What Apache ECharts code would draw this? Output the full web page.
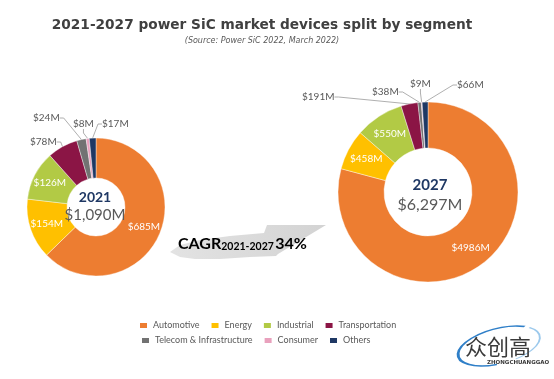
<!DOCTYPE html>
<html>
<head>
<meta charset="utf-8">
<script src="https://cdn.jsdelivr.net/npm/echarts@6/dist/echarts.min.js"></script>
<style>
html,body{margin:0;padding:0;background:#fff;}
#main{width:554px;height:379px;}
</style>
</head>
<body>
<div id="main"></div>
<script>
// ---- data ----
var categories = ['Automotive', 'Energy', 'Industrial', 'Transportation', 'Telecom & Infrastructure', 'Consumer', 'Others'];
var values2021 = [685, 154, 126, 78, 24, 8, 17];
var values2027 = [4986, 458, 550, 191, 38, 9, 66];
var totalLabel2021 = '$1,090M';
var totalLabel2027 = '$6,297M';
var years = ['2021', '2027'];
var cagrText = '34%';
var cagrPeriod = '2021-2027';

// ---- styles ----
var colors = ['#ED7D31', '#FFC000', '#B2CA45', '#8B1545', '#727272', '#E9A1BD', '#1F3864'];
var labelPos2021 = ['inside', 'inside', 'inside', 'outside', 'outside', 'outside', 'outside'];
var labelPos2027 = ['inside', 'inside', 'inside', 'outside', 'outside', 'outside', 'outside'];
// label anchor placements (left edge, vertical middle) for outside labels
var outsideLabelXY = [
  {3: [30, 142], 4: [33, 118], 5: [73, 124], 6: [102, 124]},
  {3: [302, 97], 4: [372, 92], 5: [410, 84], 6: [457, 85]}
];
var FONT = 'Lato, "Open Sans", sans-serif';

function buildData(values, pos) {
  return values.map(function (v, i) {
    var inside = pos[i] === 'inside';
    return {
      name: categories[i],
      value: v,
      itemStyle: {color: colors[i]},
      label: {
        position: pos[i],
        color: inside ? '#ffffff' : '#595959',
        fontSize: 10
      },
      labelLine: {show: !inside}
    };
  });
}

function pieSeries(values, pos, center, radius) {
  return {
    type: 'pie',
    center: center,
    radius: radius,
    startAngle: 90,
    clockwise: true,
    avoidLabelOverlap: false,
    itemStyle: {borderColor: '#ffffff', borderWidth: 0.4},
    label: {
      show: true,
      formatter: function (p) { return '$' + p.value + 'M'; },
      fontFamily: FONT
    },
    labelLine: {length: 6, length2: 4, lineStyle: {color: '#9a9a9a', width: 0.8}},
    emphasis: {disabled: true},
    data: buildData(values, pos)
  };
}

var chart = echarts.init(document.getElementById('main'), null, {renderer: 'canvas'});

var legendText = {fontFamily: FONT, fontSize: 9, color: '#595959'};

var option = {
  backgroundColor: '#ffffff',
  animation: false,
  title: {
    text: '2021-2027 power SiC market devices split by segment',
    subtext: '(Source: Power SiC 2022, March 2022)',
    left: 257,
    textAlign: 'center',
    top: 13,
    itemGap: 5,
    textStyle: {fontFamily: '"DejaVu Sans", Verdana, sans-serif', fontWeight: 'bold', fontSize: 13.7, color: '#404040'},
    subtextStyle: {fontFamily: '"DejaVu Sans", Verdana, sans-serif', fontStyle: 'italic', fontSize: 8, color: '#595959'}
  },
  legend: [
    {
      data: categories.slice(0, 4),
      left: 133, top: 316,
      icon: 'rect', itemWidth: 9, itemHeight: 7, itemGap: 10,
      selectedMode: false,
      textStyle: legendText
    },
    {
      data: categories.slice(4),
      left: 135, top: 331,
      icon: 'rect', itemWidth: 9, itemHeight: 7, itemGap: 10,
      selectedMode: false,
      textStyle: legendText
    }
  ],
  graphic: [
    {
      type: 'polygon', z: 0,
      shape: {
        points: [[170, 252], [180, 245], [200, 240], [230, 236], [264, 233], [267, 225], [326, 225],
                 [278, 254], [276, 256], [250, 257], [220, 259], [195, 259], [180, 257]],
        smooth: 0
      },
      style: {
        fill: {type: 'linear', x: 0, y: 0, x2: 1, y2: 0, colorStops: [{offset: 0, color: '#E3E3E3'}, {offset: 1, color: '#D3D3D3'}]}
      }
    },
    {
      type: 'text', z: 5,
      style: {
        x: 178, y: 252, verticalAlign: 'bottom',
        text: '{a|CAGR}{b|' + cagrPeriod + '}{s| }{a|' + cagrText + '}',
        rich: {
          a: {fontFamily: FONT, fontWeight: 'bold', fontSize: 16, color: '#595959', lineHeight: 16, verticalAlign: 'bottom'},
          b: {fontFamily: FONT, fontWeight: 'bold', fontSize: 10.5, color: '#595959', lineHeight: 10, padding: [10, 0, 0, 0], verticalAlign: 'bottom'},
          s: {fontSize: 5, lineHeight: 10, verticalAlign: 'bottom'}
        }
      }
    },
    {
      type: 'text', z: 5,
      style: {text: years[0], x: 95, y: 197, align: 'center', verticalAlign: 'middle', fontFamily: FONT, fontWeight: 'bold', fontSize: 14, fill: '#1F3864'}
    },
    {
      type: 'text', z: 5,
      style: {text: totalLabel2021, x: 95, y: 215, align: 'center', verticalAlign: 'middle', fontFamily: FONT, fontSize: 15, fill: '#595959'}
    },
    {
      type: 'text', z: 5,
      style: {text: years[1], x: 430, y: 185, align: 'center', verticalAlign: 'middle', fontFamily: FONT, fontWeight: 'bold', fontSize: 15, fill: '#1F3864'}
    },
    {
      type: 'text', z: 5,
      style: {text: totalLabel2027, x: 430, y: 205, align: 'center', verticalAlign: 'middle', fontFamily: FONT, fontSize: 16, fill: '#595959'}
    },
    // watermark logo
    {
      type: 'arc', z: 1,
      shape: {cx: 0, cy: 0, r: 42, startAngle: Math.PI * 0.55, endAngle: Math.PI * 1.75},
      x: 499, y: 346, scaleY: 0.42, rotation: 0.25,
      style: {stroke: '#2F7FC8', lineWidth: 3, fill: null}
    },
    {
      type: 'arc', z: 1,
      shape: {cx: 0, cy: 0, r: 42, startAngle: Math.PI * 1.8, endAngle: Math.PI * 2.4},
      x: 499, y: 346, scaleY: 0.42, rotation: 0.25,
      style: {stroke: '#9CC9EC', lineWidth: 2, fill: null}
    },
    {
      type: 'text', z: 2,
      style: {text: '众创高', x: 465, y: 347, verticalAlign: 'middle', fontFamily: '"Noto Sans CJK SC", sans-serif', fontSize: 22, fill: '#3a3a3a'}
    },
    {
      type: 'text', z: 2,
      style: {text: 'ZHONGCHUANGGAO', x: 487, y: 363, verticalAlign: 'middle', fontFamily: '"DejaVu Sans", sans-serif', fontWeight: 'bold', fontSize: 5.5, fill: '#3a3a3a'}
    }
  ],
  series: [
    pieSeries(values2021, labelPos2021, [96, 207], [29, 69]),
    pieSeries(values2027, labelPos2027, [428, 192], [44, 90])
  ]
};

option.series.forEach(function (s, si) {
  s.labelLayout = function (params) {
    var p = outsideLabelXY[si][params.dataIndex];
    if (!p) return {};
    return {x: p[0], y: p[1], align: 'left', verticalAlign: 'middle'};
  };
});

chart.setOption(option);
</script>
</body>
</html>
